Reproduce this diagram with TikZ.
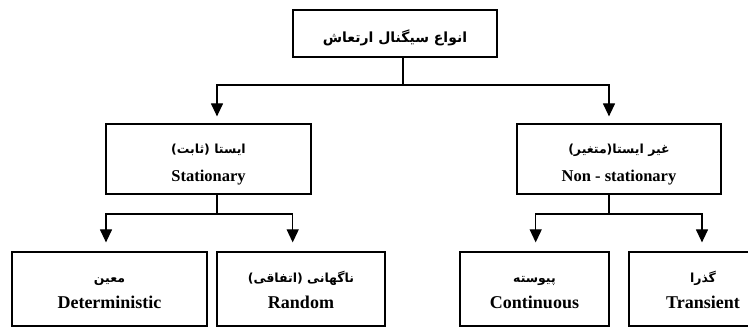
\documentclass[tikz,border=0pt]{standalone}
\usepackage{fontspec}
\setmainfont{Liberation Serif}
\newfontfamily\fa[Script=Arabic]{DejaVu Sans}
\TeXXeTstate=1
\usetikzlibrary{arrows.meta}
\tikzset{
box/.style={rectangle,draw=black,line width=1.2pt,inner sep=0pt,align=center,font=\bfseries},
arr/.style={line width=1.2pt,-{Triangle[width=12pt,length=13pt]}}
}
\newcommand\fatext[3][21pt]{{\fa\fontsize{#3}{#3}\selectfont\rule{0pt}{#1}\beginR #2\endR}}
\newcommand\entext[2]{{\fontsize{#2}{#2}\selectfont #1}}

\begin{document}
\begin{tikzpicture}[x=1pt,y=1pt]
\useasboundingbox (0,0) rectangle (748,327);
\node[box,minimum width=204pt,minimum height=47pt] (sig) at(395,293.5) {\fatext{انواع سیگنال ارتعاش}{14}};
\node[box,minimum width=205pt,minimum height=70pt] (st) at(208.5,168) {\fatext{ایستا (ثابت)}{12.5}\\[13pt]\entext{Stationary}{16.5}};
\node[box,minimum width=204pt,minimum height=70pt] (nst) at(619,168) {\fatext{غیر ایستا(متغیر)}{12.5}\\[13pt]\entext{Non - stationary}{16.5}};
\node[box,minimum width=195pt,minimum height=74pt] (det) at(109.5,38) {\fatext[13pt]{معین}{12.5}\\[10pt]\entext{Deterministic}{18}};
\node[box,minimum width=168pt,minimum height=74pt] (rnd) at(301,38) {\fatext[13pt]{ناگهانی (اتفاقی)}{12.5}\\[10pt]\entext{Random}{18}};
\node[box,minimum width=149pt,minimum height=74pt] (cont) at(534.5,38) {\fatext[13pt]{پیوسته}{12.5}\\[10pt]\entext{Continuous}{18}};
\node[box,minimum width=148pt,minimum height=74pt] (trans) at(703,38) {\fatext[13pt]{گذرا}{12.5}\\[10pt]\entext{Transient}{18}};
% first split
\coordinate (j0) at (403,242);
\draw[line width=1.2pt] (sig.south -| j0) -- (j0);
\draw[arr] (j0) -| ([xshift=8.5pt,yshift=7pt]st.north);
\draw[arr] (j0) -| ([xshift=-10pt,yshift=7pt]nst.north);
% second split
\coordinate (j1) at (217,113);
\coordinate (j2) at (609,113);
\draw[line width=1.2pt] ([xshift=8.5pt]st.south) -- (j1);
\draw[line width=1.2pt] ([xshift=-10pt]nst.south) -- (j2);
\draw[arr] (j1) -| ([xshift=-3.5pt,yshift=9pt]det.north);
\draw[arr] (j1) -| ([xshift=-8.3pt,yshift=9pt]rnd.north);
\draw[arr] (j2) -| ([xshift=1.2pt,yshift=9pt]cont.north);
\draw[arr] (j2) -| ([xshift=-1pt,yshift=9pt]trans.north);
\end{tikzpicture}
\end{document}
